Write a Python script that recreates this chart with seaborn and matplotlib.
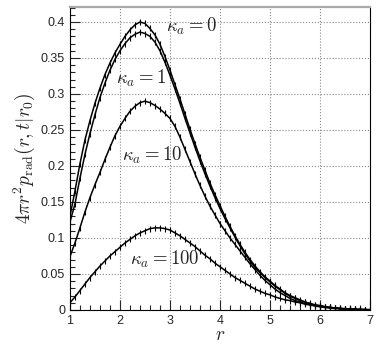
import numpy as np
import pandas as pd
import seaborn as sns
import matplotlib.pyplot as plt
from matplotlib.ticker import MultipleLocator, FuncFormatter

# radial grid (values at 0.1 steps)
r = np.round(np.arange(1.0, 7.0001, 0.1), 1)

kappa0 = [0.130, 0.165, 0.203, 0.236, 0.263, 0.287, 0.308, 0.327, 0.343, 0.357,
          0.369, 0.380, 0.389, 0.396, 0.400, 0.398, 0.391, 0.382, 0.369, 0.352,
          0.333, 0.313, 0.293, 0.272, 0.251, 0.231, 0.212, 0.194, 0.176, 0.160,
          0.145, 0.130, 0.116, 0.103, 0.091, 0.080, 0.070, 0.061, 0.053, 0.046,
          0.040, 0.034, 0.029, 0.024, 0.020, 0.017, 0.014, 0.011, 0.009, 0.007,
          0.006, 0.0045, 0.0035, 0.0027, 0.0020, 0.0015, 0.0011, 0.0008, 0.0006, 0.0004,
          0.0003]
kappa1 = [0.122, 0.147, 0.183, 0.216, 0.245, 0.271, 0.295, 0.315, 0.333, 0.348,
          0.360, 0.370, 0.378, 0.383, 0.386, 0.384, 0.380, 0.372, 0.360, 0.344,
          0.326, 0.307, 0.287, 0.266, 0.246, 0.226, 0.207, 0.189, 0.172, 0.156,
          0.141, 0.127, 0.114, 0.101, 0.089, 0.078, 0.068, 0.059, 0.052, 0.045,
          0.039, 0.033, 0.028, 0.023, 0.019, 0.016, 0.013, 0.011, 0.0087, 0.0068,
          0.0058, 0.0044, 0.0034, 0.0026, 0.0019, 0.0015, 0.0011, 0.0008, 0.0006, 0.0004,
          0.0003]
kappa10 = [0.074, 0.093, 0.114, 0.136, 0.156, 0.174, 0.191, 0.209, 0.226, 0.242,
           0.255, 0.266, 0.276, 0.283, 0.288, 0.290, 0.288, 0.284, 0.279, 0.273,
           0.266, 0.255, 0.240, 0.223, 0.206, 0.189, 0.173, 0.158, 0.144, 0.132,
           0.120, 0.110, 0.100, 0.091, 0.082, 0.073, 0.064, 0.056, 0.048, 0.041,
           0.035, 0.029, 0.024, 0.020, 0.016, 0.013, 0.011, 0.009, 0.007, 0.0055,
           0.0043, 0.0033, 0.0025, 0.0019, 0.0014, 0.0011, 0.0008, 0.0006, 0.0004, 0.0003,
           0.0002]
kappa100 = [0.010, 0.018, 0.027, 0.036, 0.045, 0.053, 0.061, 0.068, 0.075, 0.081,
            0.087, 0.093, 0.098, 0.103, 0.107, 0.110, 0.113, 0.114, 0.114, 0.113,
            0.111, 0.107, 0.103, 0.098, 0.093, 0.088, 0.082, 0.076, 0.071, 0.065,
            0.060, 0.055, 0.050, 0.045, 0.041, 0.037, 0.033, 0.029, 0.026, 0.023,
            0.021, 0.018, 0.016, 0.014, 0.013, 0.011, 0.010, 0.008, 0.007, 0.006,
            0.005, 0.0042, 0.0035, 0.0029, 0.0023, 0.0018, 0.0014, 0.0011, 0.0008, 0.0006,
            0.0004]

curves = {"0": kappa0, "1": kappa1, "10": kappa10, "100": kappa100}
# label positions (data coords)
label_pos = {"0": (2.92, 0.394), "1": (1.92, 0.322), "10": (2.04, 0.214), "100": (2.2, 0.070)}

sns.set_style("ticks")
plt.rcParams["mathtext.fontset"] = "cm"
plt.rcParams["font.family"] = ["Liberation Sans", "DejaVu Sans"]

fig = plt.figure(figsize=(3.78, 3.44), dpi=100)
ax = fig.add_axes([0.185, 0.099, 0.794, 0.881])

for k, vals in curves.items():
    sns.lineplot(x=r, y=vals, ax=ax, color="black", lw=1.1,
                 marker="|", markersize=4, markeredgewidth=0.8,
                 markeredgecolor="black")
    tx, ty = label_pos[k]
    ax.text(tx, ty, r"$\kappa_a = %s$" % k, fontsize=13.5, va="center", ha="left")

ax.set_xlim(1, 7)
ax.set_ylim(0, 0.421)
ax.xaxis.set_major_locator(MultipleLocator(1))
ax.xaxis.set_minor_locator(MultipleLocator(0.2))
ax.yaxis.set_major_locator(MultipleLocator(0.05))
ax.yaxis.set_minor_locator(MultipleLocator(0.01))
ax.yaxis.set_major_formatter(FuncFormatter(lambda v, p: "%g" % round(v, 2)))
ax.tick_params(which="both", direction="in", top=False, right=False, labelsize=9)
ax.tick_params(which="major", length=7, width=0.8)
ax.tick_params(which="minor", length=3.5, width=0.8)
ax.grid(True, which="major", color="#888888", linestyle=":", linewidth=0.8)

for s in ["left", "bottom", "right"]:
    ax.spines[s].set_color("black")
    ax.spines[s].set_linewidth(0.8)
ax.spines["top"].set_color("#aaaaaa")
ax.spines["top"].set_linewidth(1.6)

ax.set_xlabel(r"$r$", fontsize=14, labelpad=0)
ax.set_ylabel(r"$4\pi r^2 p_{\rm rad}(r,t|r_0)$", fontsize=14, labelpad=3)

fig.savefig("out.png", dpi=100)
